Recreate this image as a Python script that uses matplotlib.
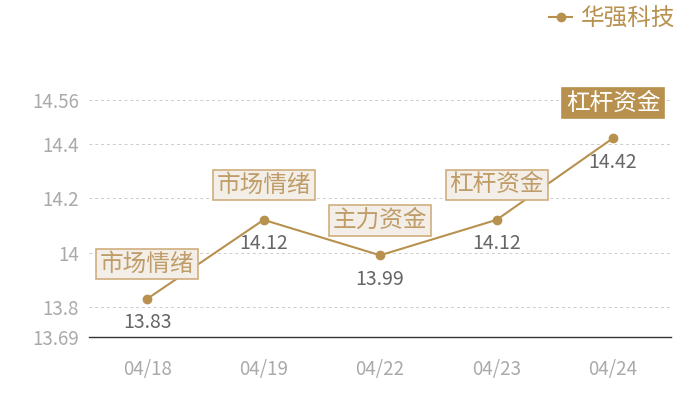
import matplotlib
matplotlib.use('Agg')
import matplotlib.pyplot as plt

plt.rcParams['font.family'] = ['Noto Sans CJK SC', 'DejaVu Sans']

dates = ['04/18', '04/19', '04/22', '04/23', '04/24']
prices = [13.83, 14.12, 13.99, 14.12, 14.42]
tags = ['市场情绪', '市场情绪', '主力资金', '杠杆资金', '杠杆资金']
yticks = [13.69, 13.8, 14, 14.2, 14.4, 14.56]
ytick_labels = ['13.69', '13.8', '14', '14.2', '14.4', '14.56']

gold = '#b8914f'

fig = plt.figure(figsize=(7, 4), dpi=100)
ax = fig.add_axes([0.127, 0.1575, 0.832, 0.5925])

x = list(range(len(dates)))
ax.plot(x, prices, color=gold, lw=1.5, marker='o', ms=6, label='华强科技', zorder=3)

ax.set_xlim(-0.5, len(dates) - 0.5)
ax.set_ylim(13.69, 14.56)
ax.set_yticks(yticks)
ax.set_yticklabels(ytick_labels)
ax.set_xticks(x)
ax.set_xticklabels(dates)
ax.tick_params(axis='both', length=0, colors='#aaaaaa', labelsize=13.5)
ax.tick_params(axis='x', pad=16)
ax.tick_params(axis='y', pad=7)
ax.grid(axis='y', color='#cccccc', ls=(0, (3, 3)), lw=0.7)
for s in ['top', 'right', 'left']:
    ax.spines[s].set_visible(False)
ax.spines['bottom'].set_color('#333333')
ax.spines['bottom'].set_linewidth(1)

for i, (p, t) in enumerate(zip(prices, tags)):
    last = i == len(prices) - 1
    ax.annotate(t, (i, p), xytext=(0, 35), textcoords='offset pixels',
                ha='center', va='center', fontsize=17,
                color='white' if last else '#c09c68',
                bbox=dict(boxstyle='square,pad=0.16',
                          fc=gold if last else '#f3efe8',
                          ec=gold if last else '#cfae7e', lw=1.2),
                zorder=4)
    ax.annotate(f'{p:.2f}', (i, p), xytext=(0, -24), textcoords='offset pixels',
                ha='center', va='center', fontsize=14, color='#666666', zorder=4)

leg = fig.legend(loc='upper right', bbox_to_anchor=(0.995, 1.035), frameon=False,
                 fontsize=17, handlelength=1.0, handletextpad=0.35)
for txt in leg.get_texts():
    txt.set_color(gold)

fig.savefig('out.png', dpi=100)
